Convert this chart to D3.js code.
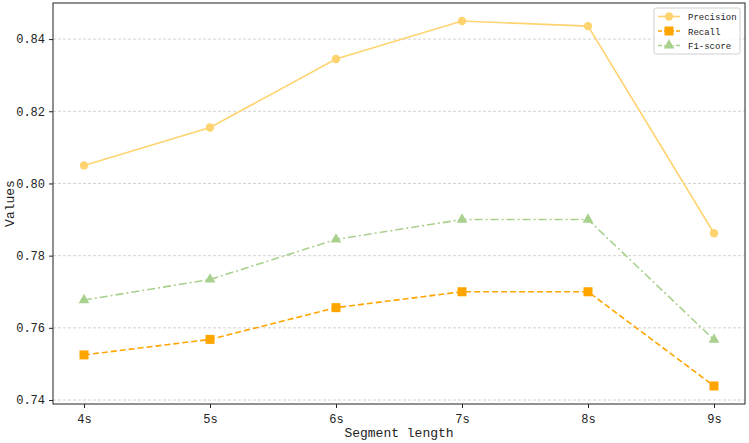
<!DOCTYPE html>
<html>
<head>
<meta charset="utf-8">
<script src="https://cdn.jsdelivr.net/npm/d3@7"></script>
<style>
  body { margin: 0; background: #fff; }
  text { font-family: "Liberation Mono", "DejaVu Sans Mono", monospace; }
</style>
</head>
<body>
<div id="chart"></div>
<script>
const segments = ['4s', '5s', '6s', '7s', '8s', '9s'];
const precision = [0.8050, 0.8155, 0.8345, 0.8450, 0.8436, 0.7862];
const recall = [0.7525, 0.7568, 0.7656, 0.7700, 0.7700, 0.7439];
const f1score = [0.7677, 0.7734, 0.7845, 0.7900, 0.7900, 0.7567];
const yTicks = [0.74, 0.76, 0.78, 0.80, 0.82, 0.84];

const series = [
    { name: 'Precision', values: precision, color: '#ffd470', dash: null, marker: 'circle' },
    { name: 'Recall', values: recall, color: '#ffa500', dash: '6,3', marker: 'square' },
    { name: 'F1-score', values: f1score, color: '#a9d18e', dash: '8,3,2,3', marker: 'triangle' }
];

const width = 749, height = 443;
const margin = { left: 53, right: 4, top: 3, bottom: 39 };

const svg = d3.select('#chart').append('svg')
    .attr('width', width)
    .attr('height', height);

const x = d3.scalePoint()
    .domain(segments)
    .range([84, 714]);

const y = d3.scaleLinear()
    .domain([0.7389, 0.85])
    .range([height - margin.bottom, margin.top]);

// grid
svg.append('g')
    .selectAll('line')
    .data(yTicks)
    .enter()
    .append('line')
    .attr('x1', margin.left)
    .attr('x2', width - margin.right)
    .attr('y1', d => y(d))
    .attr('y2', d => y(d))
    .attr('stroke', '#c8c8c8')
    .attr('stroke-width', 0.8)
    .attr('stroke-dasharray', '3,2');

const xAxis = svg.append('g')
    .attr('transform', `translate(0, ${height - margin.bottom})`)
    .call(d3.axisBottom(x).tickSizeOuter(0).tickSize(4).tickPadding(6));

const yAxis = svg.append('g')
    .attr('transform', `translate(${margin.left}, 0)`)
    .call(d3.axisLeft(y).tickValues(yTicks).tickFormat(d3.format('.2f')).tickSize(4).tickPadding(4));

[xAxis, yAxis].forEach(a => {
    a.selectAll('text').attr('font-size', 12).attr('fill', '#222')
        .style('font-family', '"Liberation Mono", monospace');
    a.selectAll('line').attr('stroke', '#222');
    a.select('.domain').remove();
});

// frame
svg.append('rect')
    .attr('x', margin.left)
    .attr('y', margin.top)
    .attr('width', width - margin.left - margin.right)
    .attr('height', height - margin.top - margin.bottom)
    .attr('fill', 'none')
    .attr('stroke', '#222')
    .attr('stroke-width', 1);

const line = d3.line()
    .x((d, i) => x(segments[i]))
    .y(d => y(d));

function drawMarker(g, type, cx, cy, color) {
    if (type === 'circle') {
        g.append('circle').attr('cx', cx).attr('cy', cy).attr('r', 4.2).attr('fill', color);
    } else if (type === 'square') {
        g.append('rect').attr('x', cx - 4.5).attr('y', cy - 4.5).attr('width', 9).attr('height', 9).attr('fill', color);
    } else {
        g.append('path')
            .attr('d', d3.symbol().type(d3.symbolTriangle).size(50)())
            .attr('transform', `translate(${cx},${cy})`)
            .attr('fill', color);
    }
}

series.forEach(s => {
    const g = svg.append('g');
    g.append('path')
        .datum(s.values)
        .attr('d', line)
        .attr('fill', 'none')
        .attr('stroke', s.color)
        .attr('stroke-width', 1.6)
        .attr('stroke-dasharray', s.dash);
    s.values.forEach((v, i) => drawMarker(g, s.marker, x(segments[i]), y(v), s.color));
});

// axis labels
svg.append('text')
    .attr('x', (margin.left + width - margin.right) / 2)
    .attr('y', 437)
    .attr('text-anchor', 'middle')
    .attr('font-size', 13)
    .attr('fill', '#222')
    .text('Segment length');

svg.append('text')
    .attr('transform', `translate(14, ${(margin.top + height - margin.bottom) / 2}) rotate(-90)`)
    .attr('text-anchor', 'middle')
    .attr('font-size', 13)
    .attr('fill', '#222')
    .text('Values');

// legend
const legend = svg.append('g').attr('transform', 'translate(654, 8)');
legend.append('rect')
    .attr('width', 86)
    .attr('height', 46)
    .attr('rx', 2)
    .attr('fill', '#fff')
    .attr('fill-opacity', 0.8)
    .attr('stroke', '#d0d0d0');

series.forEach((s, i) => {
    const ly = 8.5 + i * 14.5;
    legend.append('line')
        .attr('x1', 4).attr('x2', 26)
        .attr('y1', ly).attr('y2', ly)
        .attr('stroke', s.color)
        .attr('stroke-width', 1.6)
        .attr('stroke-dasharray', s.dash ? (s.marker === 'square' ? '4,2' : '4,2,1,2') : null);
    drawMarker(legend, s.marker, 15, ly, s.color);
    legend.append('text')
        .attr('x', 34)
        .attr('y', ly + 3.5)
        .attr('font-size', 9)
        .attr('fill', '#222')
        .text(s.name);
});
</script>
</body>
</html>
